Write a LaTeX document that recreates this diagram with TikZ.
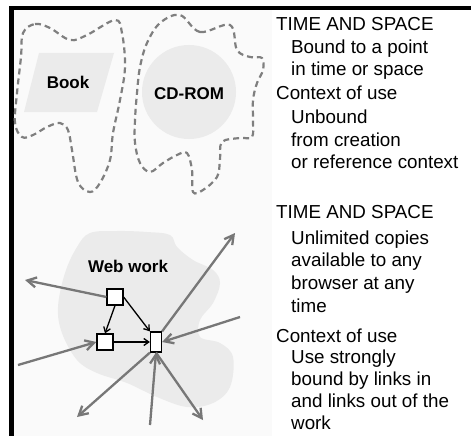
\documentclass[tikz,border=0pt]{standalone}
\usepackage{fontspec}
\setmainfont{Liberation Sans}
\usetikzlibrary{arrows.meta}

\definecolor{panel}{HTML}{FAFAFA}
\definecolor{patch}{HTML}{EBEBEB}
\definecolor{dashgray}{HTML}{7F7F7F}
\definecolor{linkgray}{HTML}{777777}

\begin{document}
\begin{tikzpicture}[x=1pt,y=-1pt,
  body/.style={font=\fontsize{18.8}{22}\selectfont, anchor=base west, inner sep=0pt},
  medium/.style={font=\fontsize{17}{20}\selectfont\bfseries, inner sep=0pt},
  boundary/.style={dashgray, line width=2.2pt, dash pattern=on 6pt off 4pt},
  page/.style={draw, fill=white, line width=1.2pt, inner sep=0pt, minimum width=16pt, minimum height=16pt},
  tallpage/.style={page, minimum width=11pt, minimum height=20pt},
  wlink/.style={draw, line width=1.3pt, -{Straight Barb[length=5pt,width=7pt]}},
  glink/.style={draw=linkgray, line width=2.3pt, -{Straight Barb[length=9pt,width=10pt]}}
]
\useasboundingbox (0,0) rectangle (471,436);
\fill[white] (0,0) rectangle (471,436);

% left panel and its black frame
\fill[panel] (14,10) rectangle (272,436);
\fill[black] (9,6) rectangle (471,10.5);
\fill[black] (9,6) rectangle (14,436);

% ---- fixed media: book and CD-ROM ----
\fill[patch] (39,53) -- (114,53) -- (97,112) -- (24,112) -- cycle;
\node[medium] (book) at (68,82) {Book};
\fill[patch] (189,92) circle (47pt);
\node[medium] (cd) at (189,94) {CD-ROM};

% dashed context boundaries
\draw[boundary] plot[smooth cycle, tension=0.6] coordinates {
  (23,33) (35,24) (50,28) (70,40) (87,35) (115,20) (122,33) (125,67)
  (120,100) (113,133) (110,160) (100,183) (90,192) (78,182) (72,150)
  (68,130) (60,123) (47,127) (33,135) (22,137) (15,123) (17,93) (21,57)};
\draw[boundary] plot[smooth cycle, tension=0.6] coordinates {
  (180,15) (200,32) (230,25) (237,50) (250,57) (262,58) (263,70)
  (257,83) (253,100) (253,120) (252,137) (240,138) (222,142) (220,160)
  (217,177) (203,190) (193,192) (192,170) (187,153) (177,155) (163,163)
  (150,172) (140,163) (135,143) (135,120) (137,93) (140,67) (147,43) (160,23)};

% ---- web work ----
\fill[patch] plot[smooth cycle, tension=0.6] coordinates {
  (90,233) (117,231) (147,232) (170,235) (177,247) (193,260) (213,270)
  (220,283) (213,303) (200,320) (200,337) (220,343) (233,357) (230,387)
  (213,403) (187,407) (157,397) (127,383) (97,373) (77,360) (62,333)
  (58,307) (65,273) (77,247)};
\node[medium] (web) at (128,266) {Web work};

\node[page] (p1) at (115,297) {};
\node[page] (p2) at (105,342) {};
\node[tallpage] (p3) at (156,342) {};

% free ends of outside links
\coordinate (o1) at (25,280);
\coordinate (i2) at (18,365);
\coordinate (o3) at (235,233);
\coordinate (i4) at (240,317);
\coordinate (o5) at (77,417);
\coordinate (i6) at (150,425);
\coordinate (o7) at (203,420);

\draw[glink] (p1.west) -- (o1);
\draw[glink] (i2) -- (p2.west);
\draw[glink] (p3.north east) -- (o3);
\draw[glink] (i4) -- (p3.east);
\draw[glink] (p3.south west) -- (o5);
\draw[glink] (i6) -- (p3.south);
\draw[glink] (p3.south) -- (o7);

% internal links
\draw[wlink] (p1.south) -- (p2.north);
\draw[wlink] (p1.east) -- (p3.north west);
\draw[wlink] (p2.east) -- (p3.west);

% ---- descriptions ----
\foreach \y/\x/\t [count=\i] in {
  30.7/276/TIME AND SPACE,
  53.2/291/Bound to a point,
  75.5/291/in time or space,
  99.5/276/Context of use,
  123.5/291/Unbound,
  146/291/from creation,
  168.5/291/or reference context,
  218.3/276/TIME AND SPACE,
  244/291/Unlimited copies,
  266.5/291/available to any,
  289.5/291/browser at any,
  312.3/291/time,
  342.5/276/Context of use,
  363.5/291/Use strongly,
  385.5/291/bound by links in,
  407.5/291/and links out of the,
  429.5/291/work}
  \node[body] (line\i) at (\x,\y) {\t};
\end{tikzpicture}
\end{document}
